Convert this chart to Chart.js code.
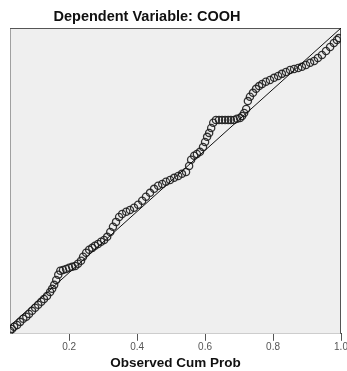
<!DOCTYPE html>
<html>
<head>
<meta charset="utf-8">
<script src="https://cdn.jsdelivr.net/npm/chart.js@4/dist/chart.umd.min.js"></script>
<style>
  html, body { margin: 0; padding: 0; background: #fff; }
  .wrap { position: relative; width: 347px; height: 371px; overflow: hidden; }
  .chart-title {
    position: absolute; left: 0; top: 8px; width: 294px; text-align: center;
    font: bold 14.5px "Liberation Sans", Arial, sans-serif; color: #111;
  }
  canvas { position: absolute; left: 0; top: 0; }
</style>
</head>
<body>
<div class="wrap">
  <canvas id="pp" width="347" height="371"></canvas>
  <div class="chart-title">Dependent Variable: COOH</div>
</div>
<script>
// P-P plot of regression standardized residual
const observedCumProb = [
  0.026, 0.032, 0.038, 0.047, 0.056, 0.065, 0.074, 0.082, 0.091, 0.100,
  0.109, 0.118, 0.126, 0.135, 0.144, 0.150, 0.156, 0.162, 0.168, 0.174,
  0.182, 0.191, 0.200, 0.209, 0.218, 0.226, 0.235, 0.241, 0.250, 0.259,
  0.268, 0.276, 0.285, 0.294, 0.303, 0.312, 0.321, 0.329, 0.338, 0.347,
  0.356, 0.368, 0.379, 0.391, 0.403, 0.415, 0.426, 0.438, 0.450, 0.462,
  0.474, 0.485, 0.497, 0.509, 0.521, 0.532, 0.544, 0.553, 0.559, 0.568,
  0.576, 0.585, 0.594, 0.600, 0.606, 0.612, 0.618, 0.624, 0.632, 0.641,
  0.650, 0.659, 0.668, 0.676, 0.685, 0.694, 0.703, 0.709, 0.715, 0.721,
  0.726, 0.732, 0.741, 0.750, 0.759, 0.768, 0.779, 0.791, 0.803, 0.815,
  0.826, 0.838, 0.850, 0.862, 0.874, 0.885, 0.897, 0.909, 0.921, 0.932,
  0.944, 0.956, 0.968, 0.979, 0.988, 0.994
];
const expectedCumProb = [
  0.010, 0.016, 0.023, 0.029, 0.039, 0.049, 0.056, 0.065, 0.075, 0.085,
  0.095, 0.105, 0.114, 0.124, 0.137, 0.147, 0.160, 0.176, 0.193, 0.206,
  0.209, 0.212, 0.216, 0.219, 0.222, 0.229, 0.239, 0.252, 0.265, 0.275,
  0.281, 0.288, 0.294, 0.301, 0.307, 0.317, 0.333, 0.350, 0.366, 0.382,
  0.392, 0.399, 0.405, 0.412, 0.422, 0.435, 0.448, 0.461, 0.474, 0.484,
  0.490, 0.497, 0.503, 0.510, 0.516, 0.523, 0.529, 0.549, 0.569, 0.582,
  0.588, 0.595, 0.611, 0.627, 0.644, 0.657, 0.673, 0.690, 0.699, 0.699,
  0.699, 0.699, 0.699, 0.699, 0.699, 0.703, 0.706, 0.712, 0.722, 0.735,
  0.761, 0.775, 0.788, 0.801, 0.810, 0.817, 0.824, 0.830, 0.837, 0.843,
  0.850, 0.856, 0.863, 0.866, 0.869, 0.873, 0.879, 0.886, 0.892, 0.902,
  0.912, 0.925, 0.938, 0.951, 0.961, 0.967
];
const refLineX = [0, 1];
const refLineY = [0, 1];
const xTickValues = [0.2, 0.4, 0.6, 0.8, 1.0];
const xAxisTitle = 'Observed Cum Prob';

// plot background + frame, like the SPSS chart
const plotFrame = {
  id: 'plotFrame',
  beforeDatasetsDraw(chart) {
    const { ctx, chartArea: a } = chart;
    ctx.save();
    ctx.fillStyle = '#efefef';
    ctx.fillRect(a.left, a.top, a.right - a.left, a.bottom - a.top);
    ctx.lineWidth = 1;
    ctx.strokeStyle = '#a0a0a0';
    ctx.beginPath();
    ctx.moveTo(a.left + 0.5, a.bottom);
    ctx.lineTo(a.left + 0.5, a.top);
    ctx.stroke();
    ctx.strokeStyle = '#555';
    ctx.beginPath();
    ctx.moveTo(a.left, a.top + 0.5);
    ctx.lineTo(a.right - 0.5, a.top + 0.5);
    ctx.lineTo(a.right - 0.5, a.bottom);
    ctx.stroke();
    ctx.restore();
  }
};

const points = observedCumProb.map((x, i) => ({ x: x, y: expectedCumProb[i] }));
const refLine = refLineX.map((x, i) => ({ x: x, y: refLineY[i] }));

new Chart(document.getElementById('pp'), {
  type: 'scatter',
  data: {
    datasets: [
      {
        type: 'line',
        data: refLine,
        borderColor: '#111',
        borderWidth: 1,
        pointRadius: 0,
        fill: false
      },
      {
        data: points,
        pointStyle: 'circle',
        pointRadius: 3.6,
        borderColor: 'rgba(30, 30, 30, 0.9)',
        backgroundColor: 'transparent',
        borderWidth: 1.3
      }
    ]
  },
  options: {
    responsive: false,
    animation: false,
    layout: { padding: { left: 10, right: 6, top: 28, bottom: 0 } },
    plugins: {
      legend: { display: false },
      tooltip: { enabled: false }
    },
    scales: {
      x: {
        type: 'linear',
        min: 0.026,
        max: 1.0,
        afterBuildTicks: (scale) => {
          scale.ticks = xTickValues.map(v => ({ value: v }));
        },
        afterFit: (scale) => {
          scale.paddingLeft = 0;
          scale.paddingRight = 0;
        },
        grid: {
          drawOnChartArea: false,
          drawTicks: true,
          tickLength: 7,
          color: '#555'
        },
        border: { display: true, color: '#444', width: 1 },
        ticks: {
          padding: 0,
          maxRotation: 0,
          autoSkip: false,
          color: '#555',
          font: { family: '"Liberation Sans", Arial, sans-serif', size: 10 },
          callback: (v) => v.toFixed(1)
        },
        title: {
          display: true,
          text: xAxisTitle,
          color: '#111',
          padding: { top: 2, bottom: 0 },
          font: { family: '"Liberation Sans", Arial, sans-serif', size: 13.5, weight: 'bold' }
        }
      },
      y: {
        type: 'linear',
        min: 0,
        max: 1,
        display: false
      }
    }
  },
  plugins: [plotFrame]
});
</script>
</body>
</html>
